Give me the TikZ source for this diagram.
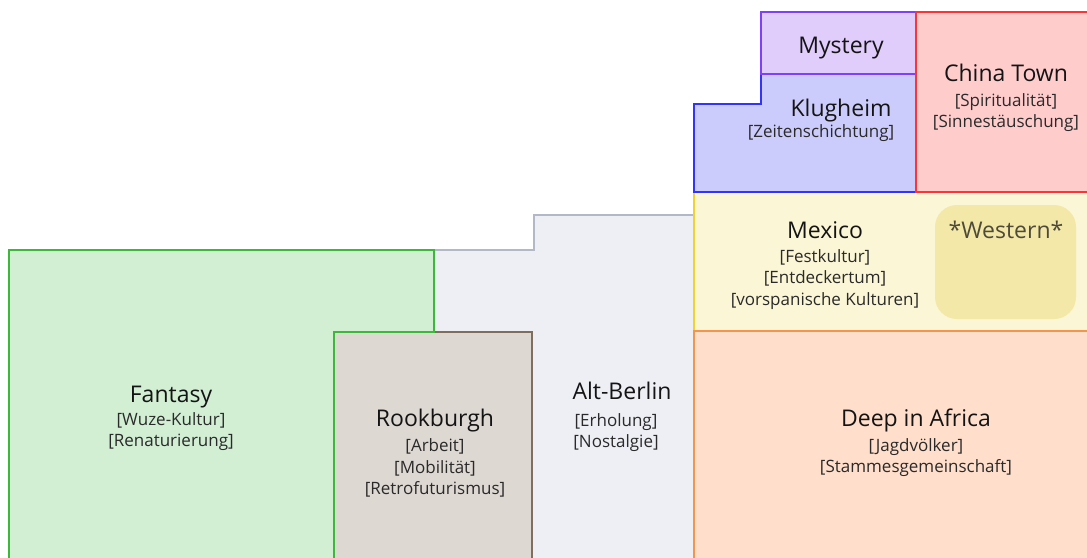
\documentclass[tikz,border=0pt]{standalone}
\usepackage{fontspec}
\setmainfont{Open Sans}
\definecolor{fanF}{HTML}{D2EFD4}\definecolor{fanD}{HTML}{3DB83D}
\definecolor{berF}{HTML}{EEEFF4}\definecolor{berD}{HTML}{B3B8C6}
\definecolor{rooF}{HTML}{DDD8D2}\definecolor{rooD}{HTML}{7D6E5E}
\definecolor{mexF}{HTML}{FBF6D5}\definecolor{mexD}{HTML}{F2D230}
\definecolor{wesF}{HTML}{F3E8A8}\definecolor{wesT}{HTML}{4D4A3A}
\definecolor{afrF}{HTML}{FFDFCB}\definecolor{afrD}{HTML}{F5944C}
\definecolor{kluF}{HTML}{CCCCFC}\definecolor{kluD}{HTML}{3333FF}
\definecolor{mysF}{HTML}{E1CDFC}\definecolor{mysD}{HTML}{7F3FFF}
\definecolor{chiF}{HTML}{FFCCCC}\definecolor{chiD}{HTML}{FF3333}
\definecolor{txtT}{HTML}{141414}\definecolor{txtS}{HTML}{2A2A2A}
\tikzset{
  area/.style={line width=2pt, line join=miter},
  title/.style={text=txtT, font=\fontsize{23}{26}\selectfont, inner sep=0pt, anchor=base},
  sub/.style={text=txtS, font=\fontsize{17}{21}\selectfont, inner sep=0pt, anchor=base},
}
\begin{document}
\begin{tikzpicture}[x=1pt,y=-1pt]
\useasboundingbox (0,0) rectangle (1087,557);
\clip (0,0) rectangle (1087,557);
\fill[white] (0,0) rectangle (1087,557);
% Alt-Berlin
\draw[area, fill=berF, draw=berD] (300,249.5) -- (534,249.5) -- (534,215) -- (694,215) -- (694,580) -- (300,580) -- cycle;
% Rookburgh
\draw[area, fill=rooF, draw=rooD] (334,332) rectangle (532,580);
% Fantasy
\draw[area, fill=fanF, draw=fanD] (9,580) -- (9,250) -- (434,250) -- (434,332) -- (334,332) -- (334,580);
% Mexico
\draw[area, fill=mexF, draw=mexD] (694,192) rectangle (1100,331);
\fill[wesF, rounded corners=22pt] (935,205) rectangle (1076,319);
% Africa
\draw[area, fill=afrF, draw=afrD] (694,331) rectangle (1100,580);
% Klugheim
\draw[area, fill=kluF, draw=kluD] (694,192) -- (694,104) -- (761,104) -- (761,73.5) -- (916,73.5) -- (916,192) -- cycle;
% Mystery
\draw[area, fill=mysF, draw=mysD] (761,12) rectangle (916,73.5);
% China Town
\draw[area, fill=chiF, draw=chiD] (916,12) rectangle (1100,192);

% texts
\node[title] (mys) at (841,53) {Mystery};
\node[title] (klu) at (841,116) {Klugheim};
\node[sub] (kluS) at (821,137.5) {[Zeitenschichtung]};
\node[title] (chi) at (1006,81) {China Town};
\node[sub] (chiS1) at (1006,106) {[Spiritualität]};
\node[sub] (chiS2) at (1006,127) {[Sinnestäuschung]};
\node[title] (mex) at (825,238) {Mexico};
\node[sub] (mexS1) at (825,262) {[Festkultur]};
\node[sub] (mexS2) at (825,283.5) {[Entdeckertum]};
\node[sub] (mexS3) at (825,305) {[vorspanische Kulturen]};
\node[title, text=wesT] (wes) at (1006,238) {*Western*};
\node[title] (fan) at (171,402) {Fantasy};
\node[sub] (fanS1) at (171,425) {[Wuze-Kultur]};
\node[sub] (fanS2) at (171,446.5) {[Renaturierung]};
\node[title] (roo) at (435,426) {Rookburgh};
\node[sub] (rooS1) at (435,451.5) {[Arbeit]};
\node[sub] (rooS2) at (435,473) {[Mobilität]};
\node[sub] (rooS3) at (435,494) {[Retrofuturismus]};
\node[title] (ber) at (622,399) {Alt-Berlin};
\node[sub] (berS1) at (616,426.5) {[Erholung]};
\node[sub] (berS2) at (616,447.5) {[Nostalgie]};
\node[title] (afr) at (916,426) {Deep in Africa};
\node[sub] (afrS1) at (916,451.5) {[Jagdvölker]};
\node[sub] (afrS2) at (916,472.5) {[Stammesgemeinschaft]};
\end{tikzpicture}
\end{document}
